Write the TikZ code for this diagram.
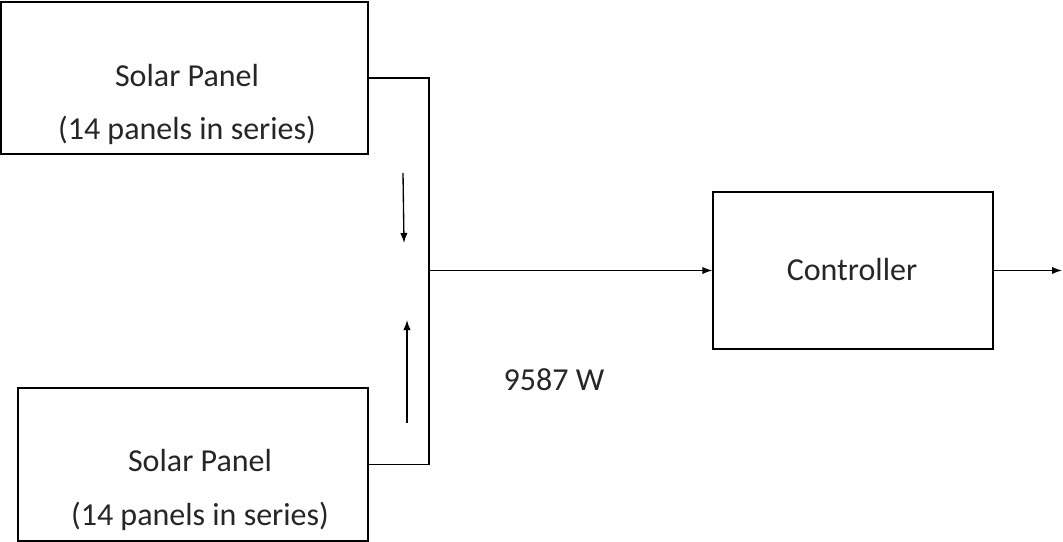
\documentclass[tikz,border=0pt]{standalone}
\usepackage{fontspec}
\setmainfont{Carlito}
\usetikzlibrary{arrows.meta}
\begin{document}
\begin{tikzpicture}[x=0.75pt, y=-0.75pt, line width=1pt, >={Latex[length=7.5pt,width=5.5pt]}]

\tikzstyle{block}=[draw, inner sep=0pt]
\tikzstyle{txt}=[align=center, inner sep=0pt, text=black!85, font=\fontsize{24}{40}\selectfont]

\useasboundingbox (0,0) rectangle (1063,542);

% the two panel strings
\node[block, minimum width=275pt, minimum height=114pt] (panelA) at (184.5,78) {};
\node[block, minimum width=262.5pt, minimum height=114.75pt] (panelB) at (193,464.5) {};
\node[txt] (panelAtext) at (187,104.5) {Solar Panel\\(14 panels in series)};
\node[txt] (panelBtext) at (200,490) {Solar Panel\\(14 panels in series)};

% controller
\node[block, minimum width=210pt, minimum height=117.75pt] (ctrl) at (853,270.5) {};
\node[txt] (ctrltext) at (852,270) {Controller};

\node[txt] (power) at (554,380) {9587 W};

\coordinate (bus) at (429,270.5);
\coordinate (out) at (1062,270.5);
\coordinate (downA) at (403,173);
\coordinate (downB) at (404,243);
\coordinate (upA) at (407,423);
\coordinate (upB) at (407,320);

\draw (panelA.east) -| (bus) |- (panelB.east);
\draw[->] (bus) -- (ctrl.west);
\draw[->] (ctrl.east) -- (out);
\draw[->] (downA) -- (downB);
\draw[->] (upA) -- (upB);
%\draw[->] (bus) -- (out);

\end{tikzpicture}
\end{document}
